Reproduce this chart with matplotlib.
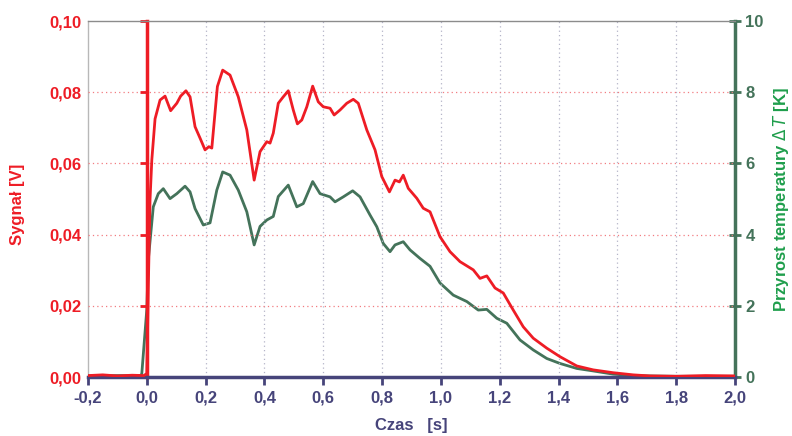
import matplotlib
matplotlib.use('Agg')
import matplotlib.pyplot as plt
from matplotlib.ticker import FuncFormatter

plt.rcParams['font.family'] = ['Liberation Sans', 'DejaVu Sans']

# colours
red = '#ee1c25'
green_line = '#44735a'
green_label = '#1f9e4c'
navy = '#46447a'
grey = '#8c8c8c'

# signal [V] vs time [s]
t_sig = [-0.20, -0.15, -0.10, -0.05, -0.01, 0.0, 0.005, 0.011, 0.017, 0.028,
         0.045, 0.062, 0.081, 0.102, 0.115, 0.133, 0.147, 0.164, 0.181, 0.198,
         0.211, 0.221, 0.240, 0.258, 0.283, 0.311, 0.340, 0.365, 0.385, 0.408,
         0.419, 0.430, 0.447, 0.464, 0.481, 0.498, 0.512, 0.527, 0.544, 0.564,
         0.583, 0.600, 0.623, 0.637, 0.657, 0.680, 0.702, 0.719, 0.748, 0.776,
         0.799, 0.825, 0.844, 0.859, 0.872, 0.889, 0.918, 0.940, 0.963, 0.997,
         1.031, 1.065, 1.110, 1.133, 1.156, 1.184, 1.212, 1.246, 1.280, 1.314,
         1.360, 1.405, 1.462, 1.518, 1.586, 1.654, 1.710, 1.80, 1.90, 2.00]
signal = [0.0004, 0.0006, 0.0003, 0.0005, 0.0004, 0.001, 0.025, 0.050, 0.061, 0.0725,
          0.0778, 0.0789, 0.0748, 0.0769, 0.0789, 0.0804, 0.0787, 0.0703, 0.0671, 0.0638,
          0.0647, 0.0643, 0.0816, 0.0862, 0.0848, 0.0787, 0.0694, 0.0553, 0.0633, 0.0661,
          0.0657, 0.0685, 0.0769, 0.0787, 0.0804, 0.0750, 0.0711, 0.0722, 0.0759, 0.0817,
          0.0773, 0.0759, 0.0755, 0.0736, 0.0750, 0.0769, 0.0780, 0.0769, 0.0694, 0.0638,
          0.0563, 0.0520, 0.0553, 0.0548, 0.0567, 0.0530, 0.0502, 0.0474, 0.0464, 0.0394,
          0.0352, 0.0324, 0.0301, 0.0277, 0.0284, 0.0250, 0.0236, 0.0188, 0.0141, 0.0109,
          0.0081, 0.0057, 0.0031, 0.0020, 0.0012, 0.0006, 0.0003, 0.0002, 0.0004, 0.0003]

# temperature rise [K] vs time [s]
t_temp = [-0.20, -0.10, -0.02, -0.017, 0.0, 0.005, 0.022, 0.039, 0.056, 0.079,
          0.102, 0.130, 0.147, 0.164, 0.192, 0.215, 0.238, 0.258, 0.283, 0.311,
          0.340, 0.365, 0.385, 0.408, 0.430, 0.447, 0.481, 0.510, 0.532, 0.564,
          0.589, 0.623, 0.640, 0.668, 0.700, 0.725, 0.759, 0.782, 0.804, 0.827,
          0.844, 0.872, 0.895, 0.929, 0.963, 0.997, 1.042, 1.088, 1.127, 1.156,
          1.190, 1.224, 1.269, 1.314, 1.360, 1.405, 1.462, 1.518, 1.586, 1.654,
          1.710, 1.80, 1.90, 2.00]
temp = [0.03, 0.04, 0.04, 0.10, 1.90, 3.29, 4.78, 5.15, 5.29, 5.01,
        5.15, 5.36, 5.20, 4.73, 4.27, 4.33, 5.25, 5.76, 5.67, 5.25,
        4.64, 3.71, 4.23, 4.41, 4.51, 5.07, 5.39, 4.78, 4.87, 5.49,
        5.15, 5.06, 4.92, 5.06, 5.23, 5.06, 4.55, 4.22, 3.75, 3.52,
        3.71, 3.80, 3.57, 3.33, 3.11, 2.64, 2.30, 2.12, 1.88, 1.90,
        1.65, 1.51, 1.04, 0.76, 0.52, 0.38, 0.24, 0.17, 0.08, 0.04,
        0.03, 0.02, 0.02, 0.02]

x_ticks = [-0.2, 0.0, 0.2, 0.4, 0.6, 0.8, 1.0, 1.2, 1.4, 1.6, 1.8, 2.0]
sig_ticks = [0.0, 0.02, 0.04, 0.06, 0.08, 0.10]
temp_ticks = [0, 2, 4, 6, 8, 10]

fs = 12

fig = plt.figure(figsize=(7.92, 4.36), dpi=100)
ax = fig.add_axes([88 / 792, 59 / 436, 647 / 792, 356 / 436])
ax2 = ax.twinx()

ax.set_xlim(-0.2, 2.0)
ax.set_ylim(0, 0.10)
ax2.set_ylim(0, 10)

# dotted grid
for xv in x_ticks[1:-1]:
    ax.axvline(xv, color='#b4b4c8', lw=0.9, ls=(0, (1, 2.5)), zorder=0)
for yv in sig_ticks[1:-1]:
    ax.axhline(yv, color='#f27c80', lw=0.9, ls=(0, (1, 2.5)), zorder=0)

ax2.plot(t_temp, temp, color=green_line, lw=2, zorder=3)
ax.plot(t_sig, signal, color=red, lw=2, zorder=4)
ax.set_zorder(ax2.get_zorder() + 1)
ax.patch.set_visible(False)

comma = FuncFormatter(lambda v, p: f'{v:.1f}'.replace('.', ','))
comma2 = FuncFormatter(lambda v, p: f'{v:.2f}'.replace('.', ','))

# x axis
ax.set_xticks(x_ticks)
ax.xaxis.set_major_formatter(comma)
ax.spines['bottom'].set_color(navy)
ax.spines['bottom'].set_linewidth(2.5)
ax.tick_params(axis='x', colors=navy, direction='out', length=6, width=2,
               labelsize=fs, pad=4)
for lab in ax.get_xticklabels():
    lab.set_fontweight('bold')
ax.set_xlabel('Czas   [s]', color=navy, fontsize=fs, fontweight='bold', labelpad=9)

# left (signal) axis drawn at t = 0
ax.spines['left'].set_position(('data', 0))
ax.spines['left'].set_color(red)
ax.spines['left'].set_linewidth(2.5)
ax.set_yticks(sig_ticks)
ax.yaxis.set_major_formatter(comma2)
ax.tick_params(axis='y', colors=red, direction='out', length=5, width=2,
               labelsize=fs, pad=42)
for lab in ax.get_yticklabels():
    lab.set_fontweight('bold')
ax.spines['top'].set_color(grey)
ax.spines['top'].set_linewidth(1)
ax.spines['right'].set_visible(False)
fig.text(18 / 792, 1 - 204 / 436, 'Sygnał [V]', color=red, fontsize=fs,
         fontweight='bold', rotation=90, ha='center', va='center')

# right (temperature) axis
ax2.set_yticks(temp_ticks)
ax2.spines['right'].set_color(green_line)
ax2.spines['right'].set_linewidth(2.5)
ax2.spines['left'].set_color('#b8b8b8')
ax2.spines['left'].set_linewidth(1)
ax2.spines['top'].set_visible(False)
ax2.spines['bottom'].set_visible(False)
ax2.tick_params(axis='y', colors=green_line, direction='inout', length=9, width=2,
                labelsize=fs, pad=3)
for lab in ax2.get_yticklabels():
    lab.set_fontweight('bold')
fig.text(781 / 792, 1 - 200 / 436, 'Przyrost temperatury $\\Delta\\,T$ [K]',
         color=green_label, fontsize=fs, fontweight='bold', rotation=90,
         ha='center', va='center')

fig.savefig('out.png', dpi=100)
